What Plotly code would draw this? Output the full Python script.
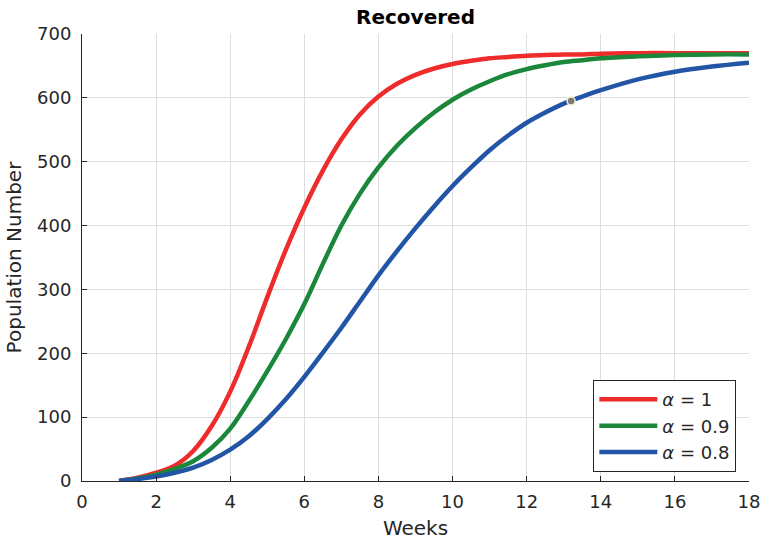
import plotly.graph_objects as go

weeks = [1, 1.5, 2, 2.5, 3, 3.5, 4, 4.5, 5, 5.5, 6, 6.5, 7, 7.5, 8, 8.5, 9, 9.5,
         10, 10.5, 11, 11.5, 12, 12.5, 13, 13.5, 14, 15, 16, 17, 18]

alpha_1 = [0, 5, 13, 24, 47, 86, 140, 210, 288, 362, 428, 486, 535, 574, 602, 622,
           636, 646, 653, 658, 662, 664, 666, 667, 668, 668, 669, 670, 670, 670, 670]
alpha_09 = [0, 4, 10, 19, 31, 52, 82, 125, 172, 222, 277, 340, 400, 450, 491, 525,
            553, 577, 597, 613, 626, 637, 645, 651, 656, 659, 662, 665, 667, 668, 668]
alpha_08 = [0, 3, 7, 13, 21, 33, 49, 70, 97, 128, 163, 201, 240, 281, 322, 360,
            396, 430, 462, 491, 518, 541, 561, 577, 591, 602, 612, 629, 641, 649, 655]

series_names = ["<i>α</i> = 1", "<i>α</i> = 0.9", "<i>α</i> = 0.8"]
series_colors = ["#EE2C2C", "#1B873B", "#2355A6"]

tip_x = [13.2]
tip_y = [595]

x_ticks = list(range(0, 19, 2))
y_ticks = list(range(0, 701, 100))

fig = go.Figure()
for name, ys, col in zip(series_names, [alpha_1, alpha_09, alpha_08], series_colors):
    fig.add_trace(go.Scatter(x=weeks, y=ys, mode="lines", name=name,
                             line=dict(color=col, width=4.5, shape="spline", smoothing=1.0)))

fig.add_trace(go.Scatter(x=tip_x, y=tip_y, mode="markers", showlegend=False,
                         marker=dict(color="#7A7A7A", size=8,
                                     line=dict(color="#F3F1C8", width=1.5))))

axis_common = dict(
    showgrid=True, gridcolor="#DEDEDE", gridwidth=1,
    showline=True, linecolor="#262626", linewidth=1,
    ticks="inside", ticklen=5, tickcolor="#262626",
    zeroline=False, mirror=False, automargin=False,
    tickfont=dict(family="DejaVu Sans", size=18, color="#262626"),
)

fig.update_layout(
    width=764, height=543,
    margin=dict(l=82, r=15, t=34, b=62),
    paper_bgcolor="white", plot_bgcolor="white",
    title=dict(text="<b>Recovered</b>", x=(82 + 749) / 2 / 764, xanchor="center",
               y=1 - 17 / 543, yanchor="middle",
               font=dict(family="DejaVu Sans", size=20, color="black")),
    xaxis=dict(range=[0, 18], tickvals=x_ticks, ticklabelstandoff=4,
               title=dict(text="Weeks", standoff=10,
                          font=dict(family="DejaVu Sans", size=20, color="#262626")),
               **axis_common),
    yaxis=dict(range=[0, 700], tickvals=y_ticks, ticklabelstandoff=6,
               title=dict(text="Population Number", standoff=10,
                          font=dict(family="DejaVu Sans", size=20, color="#262626")),
               **axis_common),
    legend=dict(x=0.981, xanchor="right", y=0.02, yanchor="bottom",
                bgcolor="white", bordercolor="#262626", borderwidth=1,
                font=dict(family="DejaVu Sans", size=18, color="#262626"),
                tracegroupgap=0, itemwidth=58),
    showlegend=True,
)

fig.write_html("out.html")
